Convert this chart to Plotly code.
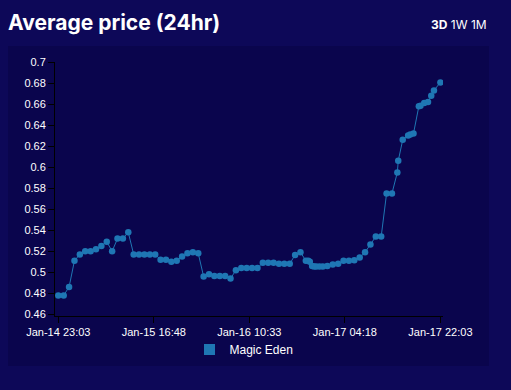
import plotly.graph_objects as go

# ---- data ----
times = [
    "2022-01-14 23:03",
    "2022-01-15 00:03", "2022-01-15 01:03", "2022-01-15 02:03", "2022-01-15 03:03",
    "2022-01-15 04:03", "2022-01-15 05:03", "2022-01-15 06:03", "2022-01-15 07:03",
    "2022-01-15 08:03", "2022-01-15 09:03", "2022-01-15 10:03", "2022-01-15 11:03",
    "2022-01-15 12:03", "2022-01-15 13:03", "2022-01-15 14:03", "2022-01-15 15:03",
    "2022-01-15 16:03", "2022-01-15 17:03", "2022-01-15 18:03", "2022-01-15 19:03",
    "2022-01-15 20:03", "2022-01-15 21:03", "2022-01-15 22:03", "2022-01-15 23:03",
    "2022-01-16 00:03", "2022-01-16 01:03", "2022-01-16 02:03", "2022-01-16 03:03",
    "2022-01-16 04:03", "2022-01-16 05:03", "2022-01-16 06:03", "2022-01-16 07:03",
    "2022-01-16 08:03", "2022-01-16 09:03", "2022-01-16 10:03", "2022-01-16 11:03",
    "2022-01-16 12:03", "2022-01-16 13:03", "2022-01-16 14:03", "2022-01-16 15:03",
    "2022-01-16 16:03", "2022-01-16 17:03", "2022-01-16 18:03", "2022-01-16 19:03",
    "2022-01-16 20:03", "2022-01-16 21:03",
    "2022-01-16 21:29", "2022-01-16 21:47", "2022-01-16 22:13", "2022-01-16 22:35",
    "2022-01-16 22:59", "2022-01-16 23:35", "2022-01-17 00:12",
    "2022-01-17 01:03", "2022-01-17 02:03", "2022-01-17 03:03", "2022-01-17 04:03",
    "2022-01-17 05:03", "2022-01-17 06:03", "2022-01-17 07:03", "2022-01-17 08:03",
    "2022-01-17 09:03", "2022-01-17 10:03", "2022-01-17 11:03", "2022-01-17 12:03",
    "2022-01-17 13:03", "2022-01-17 14:03", "2022-01-17 14:13", "2022-01-17 15:03",
    "2022-01-17 16:03", "2022-01-17 16:27", "2022-01-17 17:03", "2022-01-17 18:03",
    "2022-01-17 18:21", "2022-01-17 19:03", "2022-01-17 19:45", "2022-01-17 20:21",
    "2022-01-17 20:51", "2022-01-17 22:03",
]
avg_price = [
    0.478,
    0.478, 0.486, 0.511, 0.517,
    0.520, 0.520, 0.522, 0.525,
    0.529, 0.520, 0.532, 0.532,
    0.538, 0.517, 0.517, 0.517,
    0.517, 0.517, 0.512, 0.512,
    0.510, 0.511, 0.515, 0.518,
    0.519, 0.518, 0.496, 0.498,
    0.4965, 0.4965, 0.4965, 0.494,
    0.502, 0.504, 0.504, 0.504,
    0.504, 0.509, 0.509, 0.509,
    0.508, 0.508, 0.508, 0.5165,
    0.519, 0.511,
    0.511, 0.510, 0.506, 0.5055,
    0.5055, 0.5055, 0.5055,
    0.506, 0.5075, 0.508, 0.511,
    0.511, 0.5115, 0.514, 0.519,
    0.5265, 0.534, 0.534, 0.575,
    0.575, 0.595, 0.606, 0.626,
    0.630, 0.631, 0.632, 0.658,
    0.6585, 0.661, 0.662, 0.668,
    0.673, 0.6806,
]
series_name = "Magic Eden"
x_tick_vals = ["2022-01-14 23:03", "2022-01-15 16:48", "2022-01-16 10:33",
               "2022-01-17 04:18", "2022-01-17 22:03"]
x_tick_text = ["Jan-14 23:03", "Jan-15 16:48", "Jan-16 10:33",
               "Jan-17 04:18", "Jan-17 22:03"]
x_range = ["2022-01-14 22:26", "2022-01-17 22:32"]
y_range = [0.4584, 0.7]

line_color = "#1f77b4"
outer_bg = "#0d0858"
panel_bg = "#0a054d"

fig = go.Figure()
fig.add_trace(go.Scatter(
    x=times, y=avg_price, mode="lines+markers", name=series_name,
    line=dict(color=line_color, width=1),
    marker=dict(color=line_color, size=6.5),
    showlegend=False, hoverinfo="x+y",
))
fig.add_trace(go.Scatter(
    x=[None], y=[None], mode="markers", name=series_name,
    marker=dict(color=line_color, size=11, symbol="square"),
    showlegend=True,
))

L, R, T, B = 55, 68, 62, 74
W, H = 511, 390
pw, ph = W - L - R, H - T - B

def px(xp):
    return (xp - L) / pw

def py(yp):
    return (H - B - yp) / ph

fig.add_shape(type="rect", xref="paper", yref="paper",
              x0=px(8), x1=px(489), y0=py(366), y1=py(46),
              fillcolor=panel_bg, line=dict(width=0), layer="below")

fig.update_layout(
    width=W, height=H,
    margin=dict(l=L, r=R, t=T, b=B, pad=0),
    paper_bgcolor=outer_bg, plot_bgcolor="rgba(0,0,0,0)",
    font=dict(family="Liberation Sans, Arial, sans-serif", color="white", size=11),
    title=dict(text="<b>Average price (24hr)</b>", xref="container", x=8 / W,
               xanchor="left", yref="container", y=1 - 22.5 / H, yanchor="middle",
               font=dict(family="Inter, Lato, sans-serif", size=21, color="white",
                         weight=800)),
    xaxis=dict(type="date", range=x_range, tickvals=x_tick_vals, ticktext=x_tick_text,
               showgrid=False, zeroline=False, showline=True, linecolor="black",
               linewidth=1, ticks="outside", ticklen=6, tickcolor="black",
               tickfont=dict(size=11, color="white")),
    yaxis=dict(range=y_range, dtick=0.02, tick0=0.46, showgrid=False, zeroline=False,
               showline=True, linecolor="black", linewidth=1, ticks="outside",
               ticklen=6, tickcolor="black", tickfont=dict(size=11, color="white")),
    legend=dict(orientation="h", x=px(244), xanchor="center", y=py(335), yanchor="top",
                font=dict(size=12, color="white"), bgcolor="rgba(0,0,0,0)",
                itemsizing="trace"),
    annotations=[dict(text="<b>3D</b> 1W 1M", xref="paper", yref="paper",
                      x=px(489), xanchor="right", y=py(24), yanchor="middle",
                      showarrow=False,
                      font=dict(family="Inter, Lato, sans-serif", size=12, color="white"))],
)

fig.write_html("out.html",
               config={"displayModeBar": False},
               post_script="document.body.style.margin='0';"
                           "document.body.style.background='" + outer_bg + "';")
